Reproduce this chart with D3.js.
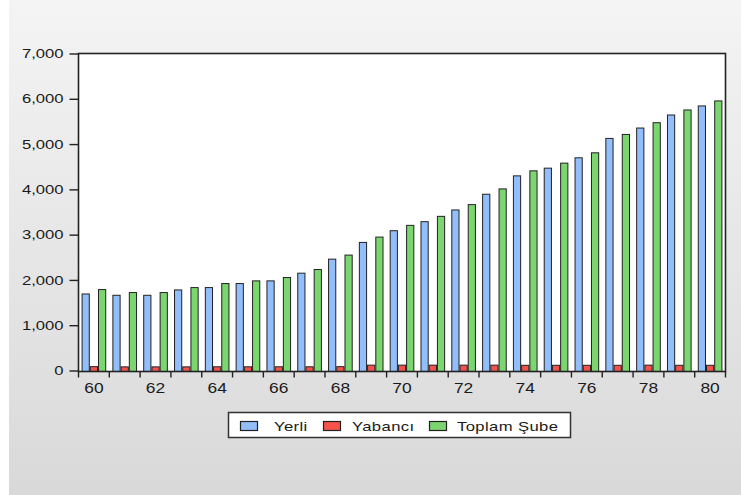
<!DOCTYPE html>
<html><head><meta charset="utf-8">
<script src="https://cdn.jsdelivr.net/npm/d3@7"></script>
<style>body{margin:0;background:#fff}svg{display:block}text{font-family:"Liberation Sans",Arial,sans-serif}</style>
</head><body><svg id="c" width="741" height="495"></svg>
<script>
const years = [1960,1961,1962,1963,1964,1965,1966,1967,1968,1969,1970,1971,1972,1973,1974,1975,1976,1977,1978,1979,1980];
const seriesNames = ["Yerli","Yabancı","Toplam Şube"];
const yerli   = [1690,1661,1661,1779,1831,1920,1979,2149,2459,2828,3087,3286,3545,3892,4298,4468,4697,5125,5354,5642,5842];
const yabanci = [85,80,80,80,82,82,82,82,85,118,118,118,118,118,115,115,115,115,118,115,115];
const toplam  = [1787,1721,1721,1831,1920,1979,2053,2230,2548,2946,3205,3404,3663,4010,4409,4579,4807,5213,5472,5753,5953];
const yTicks = [0,1000,2000,3000,4000,5000,6000,7000];
const colors = ["#92befc","#f5524c","#7bd670"];
const SX = 1.28;

const svg = d3.select("#c");
const defs = svg.append("defs");
const g = defs.append("linearGradient").attr("id","bg").attr("x1",0).attr("y1",0).attr("x2",0).attr("y2",1);
g.append("stop").attr("offset","0%").attr("stop-color","#f4f4f4");
g.append("stop").attr("offset","100%").attr("stop-color","#d9d9d9");
svg.append("rect").attr("x",9).attr("y",0).attr("width",732).attr("height",495).attr("fill","url(#bg)");

const L=78.5,R=725.5,T=53.5,B=371.5;
const x = d3.scaleBand().domain(years).range([L,R]).paddingInner(0).paddingOuter(0);
const x1 = d3.scaleBand().domain(seriesNames).range([0,x.bandwidth()]).paddingInner(0).paddingOuter(0.375);
const y = d3.scaleLinear().domain([0,7000]).range([370.5,53.5]);

svg.append("rect").attr("x",L).attr("y",T).attr("width",R-L).attr("height",B-T).attr("fill","#fff");

const data = years.map((yr,i)=>({yr, vals:[yerli[i],yabanci[i],toplam[i]]}));
const grp = svg.append("g").selectAll("g").data(data).join("g").attr("transform",d=>`translate(${x(d.yr)},0)`);
grp.selectAll("rect").data(d=>d.vals.map((v,k)=>({v,k}))).join("rect")
  .attr("x",d=>x1(seriesNames[d.k])+0.5).attr("width",x1.bandwidth()-1)
  .attr("y",d=>y(d.v)).attr("height",d=>B-y(d.v))
  .attr("fill",d=>colors[d.k]).attr("stroke","#222").attr("stroke-width",1);

svg.append("rect").attr("x",L).attr("y",T).attr("width",R-L).attr("height",B-T).attr("fill","none").attr("stroke","#222").attr("stroke-width",1.6);

// y axis
const ya = svg.append("g").attr("transform",`translate(${L},0)`).call(d3.axisLeft(y).tickValues(yTicks).tickSize(9).tickPadding(5).tickFormat(d3.format(",")));
ya.select(".domain").remove();
ya.selectAll("line").attr("stroke","#222").attr("stroke-width",1.4);
ya.selectAll("text").attr("font-size",13).attr("fill","#1a1a1a").attr("font-family","'Liberation Sans',Arial,sans-serif")
  .attr("x",null).attr("transform",`translate(-15,0) scale(${SX},1)`);

// x axis ticks at boundaries
const bounds = years.map(v=>x(v)).concat([R]);
svg.append("g").selectAll("line").data(bounds).join("line")
  .attr("x1",d=>d).attr("x2",d=>d).attr("y1",B).attr("y2",B+6).attr("stroke","#222").attr("stroke-width",1.4);
svg.append("g").selectAll("text").data(years.filter(v=>v%2===0)).join("text")
  .attr("transform",d=>`translate(${x(d)+x.bandwidth()/2},393) scale(${SX*0.97},1)`).attr("text-anchor","middle")
  .attr("font-size",14).attr("fill","#1a1a1a").text(d=>String(d).slice(2));

// legend
svg.append("rect").attr("x",228.5).attr("y",412.5).attr("width",342).attr("height",25).attr("fill","#fff").attr("stroke","#333").attr("stroke-width",1.5);
const lx=[240,323,429], tx=[274,352,457];
seriesNames.forEach((n,i)=>{
  svg.append("rect").attr("x",lx[i]+0.5).attr("y",421.5).attr("width",17).attr("height",9).attr("fill",colors[i]).attr("stroke","#222").attr("stroke-width",1.2);
  svg.append("text").attr("transform",`translate(${tx[i]},430.5) scale(${SX},1)`).attr("font-size",13).attr("letter-spacing","0.3").attr("fill","#1a1a1a").text(n);
});
</script></body></html>
